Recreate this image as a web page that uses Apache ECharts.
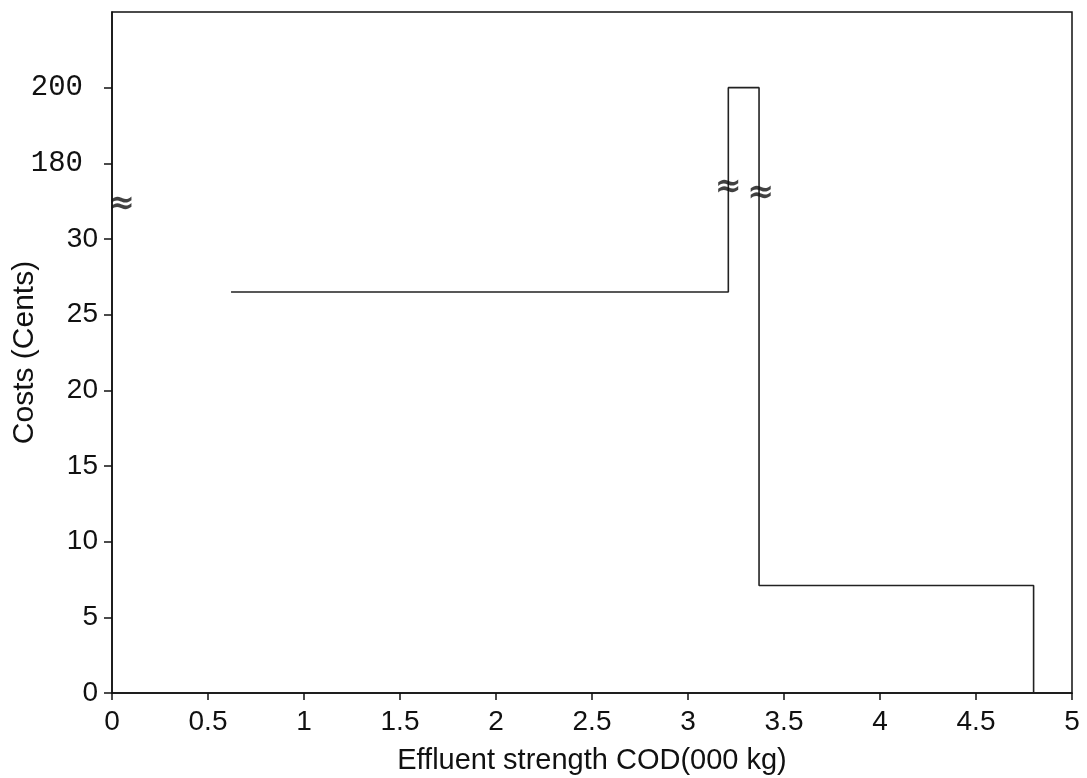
<!DOCTYPE html>
<html><head><meta charset="utf-8">
<script src="https://cdn.jsdelivr.net/npm/echarts@6/dist/echarts.min.js"></script>
<style>html,body{margin:0;padding:0;background:#fff}#c{width:1087px;height:778px}</style>
</head><body><div id="c"></div>
<script>
// Step curve (real values)
const stepX = [0.62, 3.21, 3.21, 3.37, 3.37, 4.80, 4.80];
const stepCost = [26.5, 26.5, 200, 200, 7.1, 7.1, 0];
// y-axis tick labels (axis positions -> shown text)
const yTickPos = [0, 5, 10, 15, 20, 25, 30, 35, 40];
const yTickText = ['0', '5', '10', '15', '20', '25', '30', '180', '200'];
// axis break marks (x, axis position)
const breakX = [0.05, 3.21, 3.38];
const breakY = [32.3, 33.4, 33.0];

// broken axis: 0-30 linear, then 160-220 compressed 4:1
function toAxis(v) { return v <= 30 ? v : 30 + (v - 160) / 4; }

const lineData = stepX.map((x, i) => [x, toAxis(stepCost[i])]);
const breakData = breakX.map((x, i) => [x, breakY[i]]);

const chart = echarts.init(document.getElementById('c'));
chart.setOption({
  animation: false,
  grid: { left: 112, right: 15, top: 12, bottom: 85, show: true, borderColor: '#111', borderWidth: 1.5,
    containLabel: false, outerBoundsMode: 'none' },
  xAxis: {
    type: 'value', min: 0, max: 5, interval: 0.5,
    name: 'Effluent strength COD(000 kg)', nameLocation: 'middle', nameGap: 53, nameMoveOverlap: false,
    nameTextStyle: { fontFamily: 'Liberation Sans', fontSize: 29, color: '#111' },
    axisLine: { lineStyle: { color: '#111', width: 1.5 } },
    axisTick: { show: true, inside: false, length: 7, lineStyle: { color: '#111', width: 1.5 } },
    axisLabel: { margin: 15, fontFamily: 'Liberation Sans', fontSize: 28, color: '#111',
      formatter: v => String(v) },
    splitLine: { show: false }
  },
  yAxis: {
    type: 'value', min: 0, max: 45, interval: 5,
    name: 'Costs (Cents)', nameLocation: 'middle', nameGap: 72, nameMoveOverlap: false,
    nameTextStyle: { fontFamily: 'Liberation Sans', fontSize: 30, color: '#111' },
    axisLine: { lineStyle: { color: '#111', width: 1.5 } },
    axisTick: { show: true, inside: false, length: 8, customValues: yTickPos, lineStyle: { color: '#111', width: 1.5 } },
    axisLabel: {
      margin: 14, fontFamily: 'Liberation Sans', fontSize: 28, color: '#111',
      customValues: yTickPos,
      formatter: v => {
        const i = yTickPos.indexOf(v);
        if (i < 0) return '';
        const t = yTickText[i];
        return v > 30 ? '{m|' + t + '}' : t;
      },
      rich: { m: { fontFamily: 'Liberation Mono', fontSize: 29, color: '#111', padding: [0, 15, 0, 0] } }
    },
    splitLine: { show: false }
  },
  series: [
    {
      type: 'line', data: lineData, symbol: 'none',
      lineStyle: { color: '#222', width: 1.6 }
    },
    {
      type: 'scatter', data: breakData, symbolSize: 0,
      label: { show: true, position: 'inside', formatter: '≈', fontSize: 32, fontWeight: 'bold', color: '#111', fontFamily: 'DejaVu Sans' },
      z: 5
    }
  ]
});
</script></body></html>
